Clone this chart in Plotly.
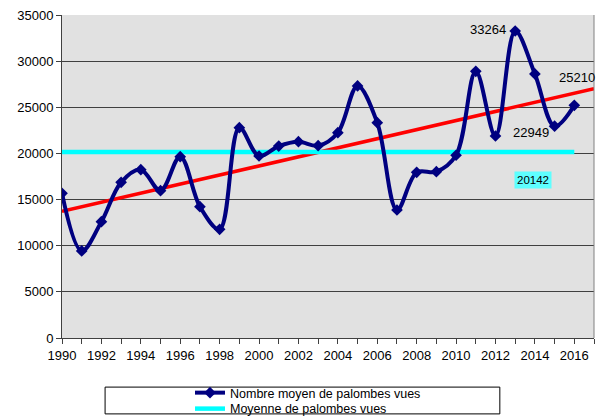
import numpy as np
import plotly.graph_objects as go

years = list(range(1990, 2017))
palombes = [15680, 9430, 12600, 16870, 18240, 15960, 19650, 14230, 11780, 22790,
            19720, 20800, 21270, 20840, 22250, 27310, 23330, 13870, 17950, 18020,
            19800, 28900, 21890, 33264, 28610, 22949, 25210]
moyenne = 20142
trend_years = [1990, 2017]
y_ticks = [0, 5000, 10000, 15000, 20000, 25000, 30000, 35000]
x_ticks = list(range(1990, 2017, 2))

slope, intercept = np.polyfit(years, palombes, 1)
trend_vals = [slope * t + intercept for t in trend_years]

fig = go.Figure()
fig.add_trace(go.Scatter(
    x=trend_years, y=trend_vals, mode="lines",
    line=dict(color="#FF0000", width=3.5), showlegend=False, hoverinfo="skip"))
fig.add_trace(go.Scatter(
    x=[years[0], years[-1]], y=[moyenne, moyenne], mode="lines",
    name="Moyenne de palombes vues", legend="legend2",
    line=dict(color="#00FFFF", width=4.5)))
fig.add_trace(go.Scatter(
    x=years, y=palombes, mode="lines+markers",
    name="Nombre moyen de palombes vues", legend="legend",
    line=dict(color="#000080", width=4, shape="spline", smoothing=1),
    marker=dict(symbol="diamond", size=9, color="#000080")))

font = dict(family="Liberation Sans, Arial", size=13, color="#000000")
legend_font = dict(family="Liberation Sans, Arial", size=12.5, color="#000000")

annotations = [
    dict(x=2013, y=33264, text="33264", showarrow=False, xanchor="right", yanchor="middle", xshift=-7, yshift=2),
    dict(x=2016, y=25210, text="25210", showarrow=False, xanchor="center", yanchor="middle", xshift=3, yshift=28),
    dict(x=2015, y=22949, text="22949", showarrow=False, xanchor="right", yanchor="middle", xshift=-4, yshift=-6),
    dict(x=2013.9, y=17100, text="20142", showarrow=False, xanchor="center", yanchor="middle",
         bgcolor="#5EFFFF", font=dict(family="Liberation Sans, Arial", size=11.5, color="#000000"),
         borderpad=2),
]

fig.update_layout(
    width=607, height=416,
    margin=dict(l=62, r=13, t=15, b=78, autoexpand=False),
    paper_bgcolor="#FFFFFF", plot_bgcolor="#E1E1E1",
    font=font,
    annotations=annotations,
    showlegend=True,
    legend=dict(xref="container", yref="container", x=0.313, y=0.0913,
                xanchor="left", yanchor="top",
                bgcolor="rgba(0,0,0,0)", font=legend_font, itemwidth=30),
    legend2=dict(xref="container", yref="container", x=0.313, y=0.0529,
                 xanchor="left", yanchor="top",
                 bgcolor="rgba(0,0,0,0)", font=legend_font, itemwidth=30),
    shapes=[
        dict(type="rect", xref="paper", yref="paper", x0=0.081, x1=0.823, y0=-0.235, y1=-0.152,
             line=dict(color="#000000", width=1), fillcolor="rgba(0,0,0,0)"),
        dict(type="line", xref="paper", yref="paper", x0=1, x1=1, y0=0, y1=1,
             line=dict(color="#808080", width=1)),
    ],
)
fig.update_xaxes(
    range=[1990, 2017], tickvals=x_ticks, ticktext=[str(v) for v in x_ticks],
    ticks="outside", ticklen=5, tickcolor="#404040",
    minor=dict(dtick=1, tick0=1990, ticks="outside", ticklen=5, tickcolor="#404040", showgrid=False),
    showgrid=False, showline=True, linecolor="#404040", linewidth=1, zeroline=False,
    tickfont=font, automargin=False)
fig.update_yaxes(
    range=[0, 35000], tickvals=y_ticks, ticktext=[str(v) for v in y_ticks],
    ticks="outside", ticklen=5, tickcolor="#404040",
    showgrid=True, gridcolor="#404040", gridwidth=1,
    showline=True, linecolor="#404040", linewidth=1, zeroline=False,
    tickfont=font, automargin=False)

fig.write_html("out.html", config={"displayModeBar": False},
               post_script="document.body.style.margin='0';document.body.style.overflow='hidden';")
